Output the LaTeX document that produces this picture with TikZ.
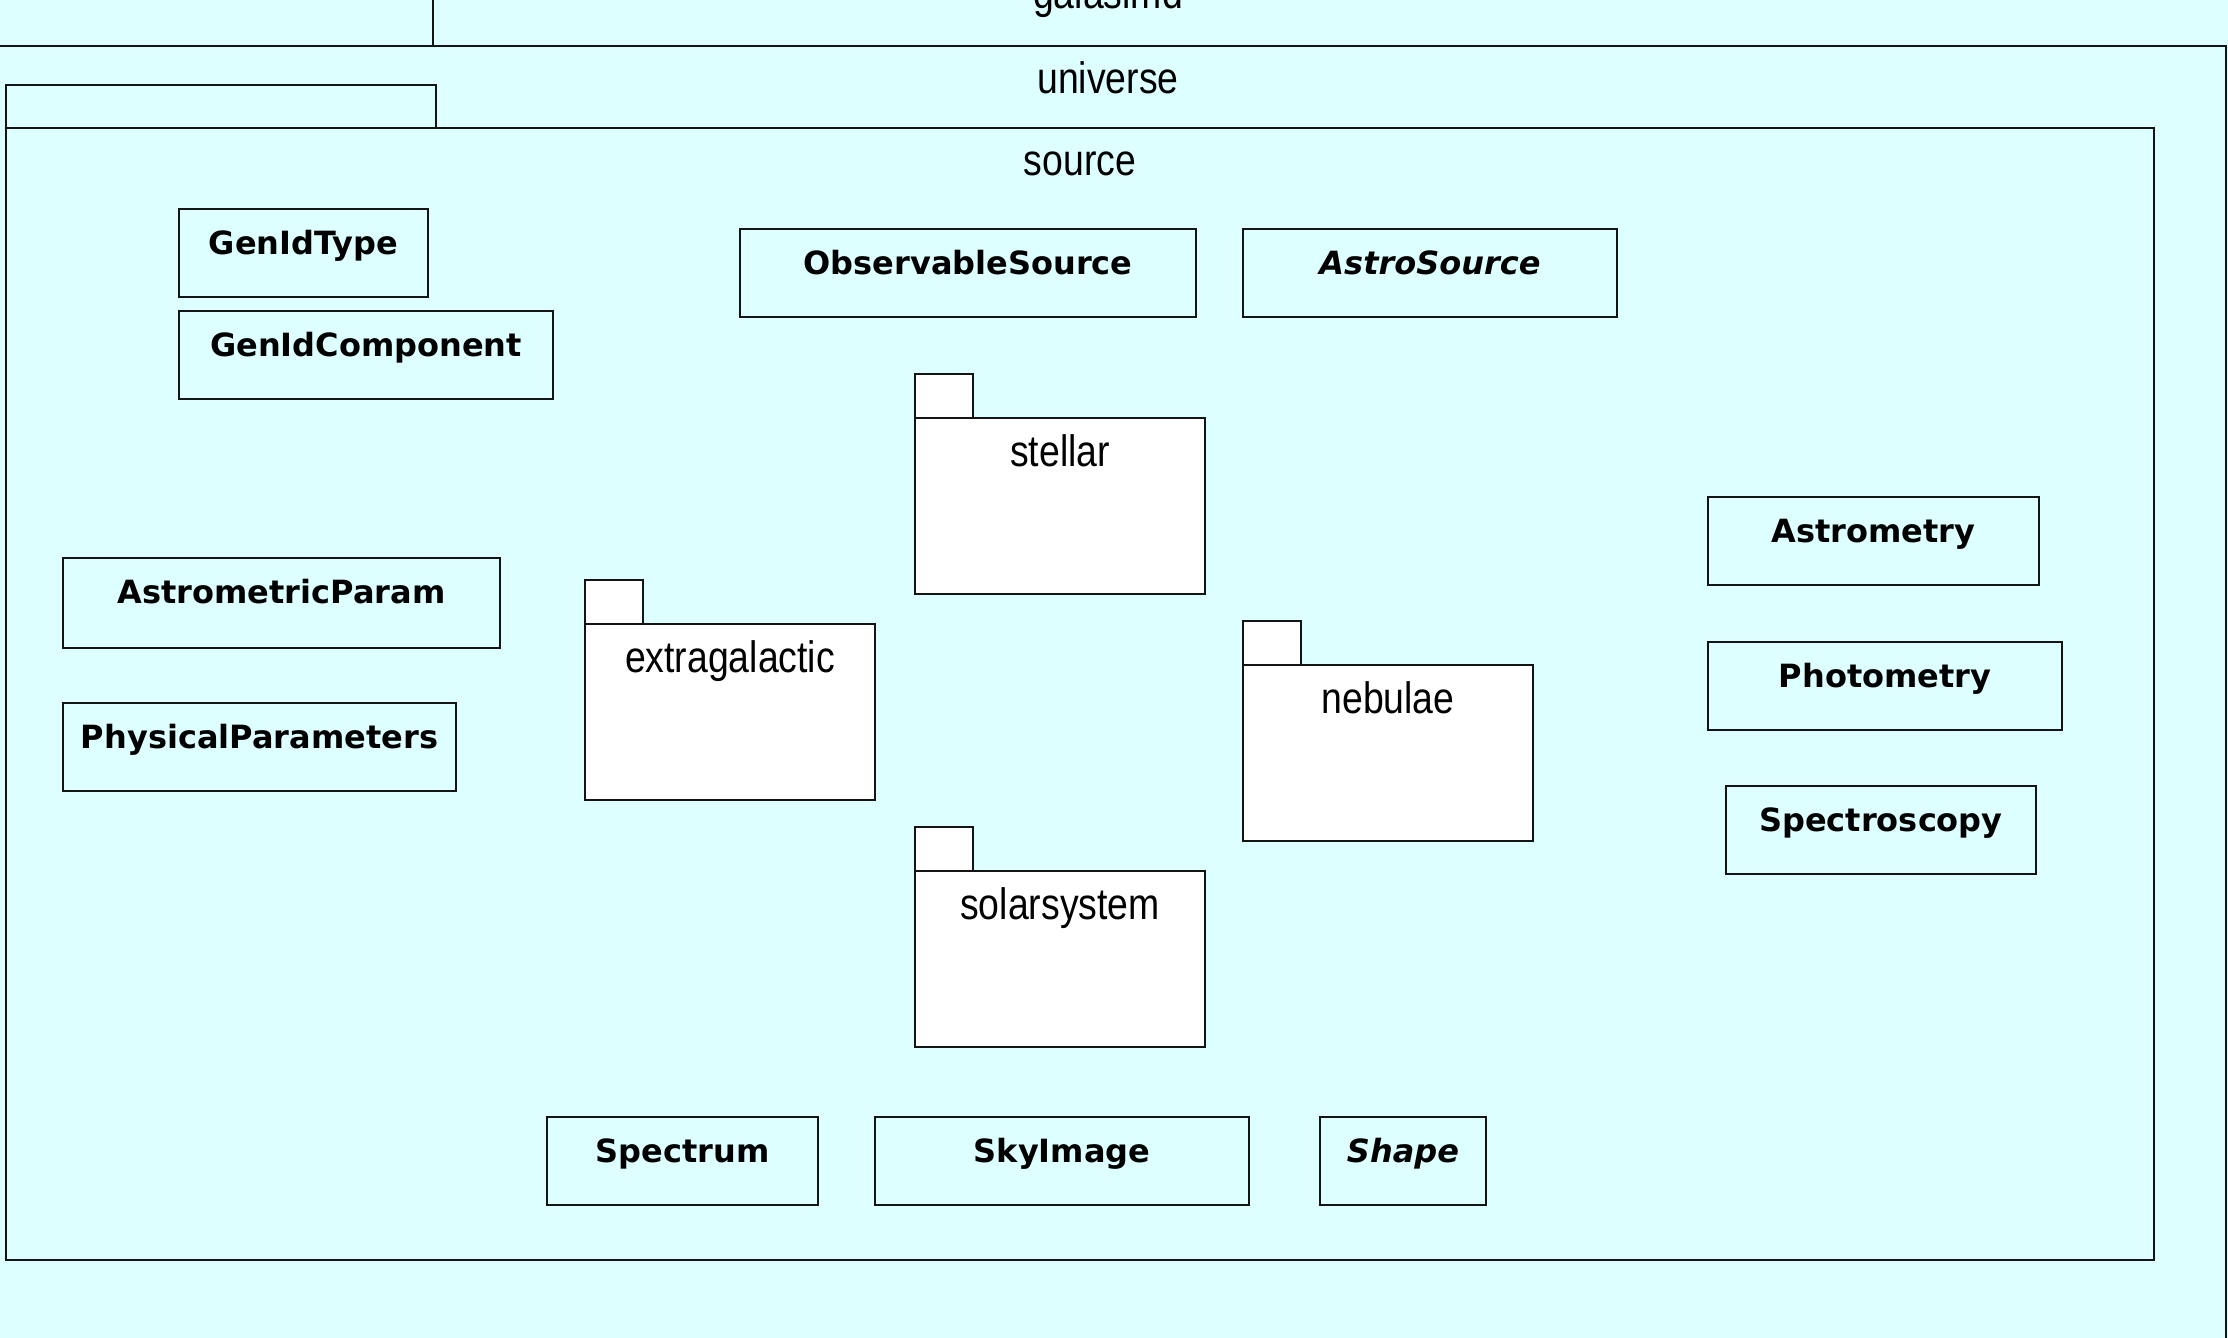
\documentclass[tikz,border=0pt]{standalone}
\usepackage{fontspec}
\usepackage{graphicx}
\setmainfont{Liberation Sans}
\newfontfamily\clsfont{DejaVu Sans}
\newfontfamily\lblfont{Liberation Sans}
\definecolor{bgc}{RGB}{221,255,255}
\definecolor{lnc}{RGB}{20,20,20}
\tikzset{
  clsbox/.style={draw=lnc, line width=2.6pt, rectangle, inner sep=0pt, outer sep=0pt},
  clsname/.style={inner sep=0pt, font=\clsfont\bfseries\fontsize{32}{38}\selectfont, text=black},
  pkgpart/.style={draw=lnc, line width=2.6pt, rectangle, inner sep=0pt, outer sep=0pt},
  pkglabel/.style={inner sep=0pt, text=black}
}
\newcommand\umlclass[6]{%
  \node[clsbox, minimum width={#4-#2}, minimum height={#5-#3}] (#1) at ({(#2+#4)/2},{(#3+#5)/2}) {};
  \node[clsname, anchor=base] (#1-name) at ([yshift=-45pt]#1.north) {#6};}
\newcommand\lbl[1]{\scalebox{0.85}[1]{\lblfont\fontsize{44}{50}\selectfont #1}}
\newcommand\umlpkg[4]{% name, x1, body top y, label
  \node[pkgpart, fill=white, minimum width=58, minimum height=44, anchor=south west] (#1-tab) at (#2,#3) {};
  \node[pkgpart, fill=white, minimum width=290, minimum height=176, anchor=north west] (#1) at (#2,#3) {};
  \node[pkglabel, anchor=base] (#1-lbl) at ([yshift=-48pt]#1.north) {\lbl{#4}};}
\begin{document}
\begin{tikzpicture}[x=1pt,y=-1pt]
\useasboundingbox (0,0) rectangle (2228,1338);
\fill[bgc] (0,0) rectangle (2228,1338);
% galasimd (outer, mostly off-picture)
\node[pkglabel, anchor=base] (galasimd) at (1108,9) {\lbl{galasimd}};
% universe
\node[pkgpart, minimum width=437, minimum height=50, anchor=south west] (universe-tab) at (-4,46) {};
\node[pkgpart, minimum width=2230, minimum height=1320, anchor=north west] (universe) at (-4,46) {};
\node[pkglabel, anchor=base] (universe-lbl) at (1108,93) {\lbl{universe}};
% source
\node[pkgpart, minimum width=430, minimum height=43, anchor=south west] (source-tab) at (6,128) {};
\node[pkgpart, minimum width=2148, minimum height=1132, anchor=north west] (source) at (6,128) {};
\node[pkglabel, anchor=base] (source-lbl) at (1080,175) {\lbl{source}};
% sub-packages
\umlpkg{stellar}{915}{418}{stellar}
\umlpkg{extragalactic}{585}{624}{extragalactic}
\umlpkg{nebulae}{1243}{665}{nebulae}
\umlpkg{solarsystem}{915}{871}{solarsystem}
% classes
\umlclass{genidtype}{179}{209}{428}{297}{GenIdType}
\umlclass{genidcomponent}{179}{311}{553}{399}{GenIdComponent}
\umlclass{observablesource}{740}{229}{1196}{317}{ObservableSource}
\umlclass{astrosource}{1243}{229}{1617}{317}{\itshape AstroSource}
\umlclass{astrometricparam}{63}{558}{500}{648}{AstrometricParam}
\umlclass{physicalparameters}{63}{703}{456}{791}{PhysicalParameters}
\umlclass{astrometry}{1708}{497}{2039}{585}{Astrometry}
\umlclass{photometry}{1708}{642}{2062}{730}{Photometry}
\umlclass{spectroscopy}{1726}{786}{2036}{874}{Spectroscopy}
\umlclass{spectrum}{547}{1117}{818}{1205}{Spectrum}
\umlclass{skyimage}{875}{1117}{1249}{1205}{SkyImage}
\umlclass{shape}{1320}{1117}{1486}{1205}{\itshape Shape}
\end{tikzpicture}
\end{document}
